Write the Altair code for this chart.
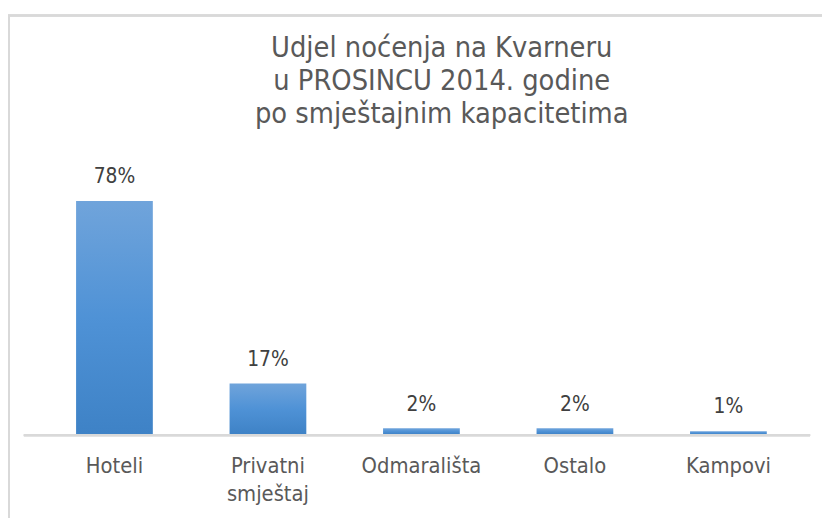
import altair as alt
import pandas as pd

categories = ["Hoteli", "Privatni smještaj", "Odmarališta", "Ostalo", "Kampovi"]
shares = [78, 17, 2, 2, 1]
title_lines = ["Udjel noćenja na Kvarneru", "u PROSINCU 2014. godine", "po smještajnim kapacitetima"]

df = pd.DataFrame({"kat": categories, "udio": shares})
df["label"] = df["udio"].astype(str) + "%"
df_title = pd.DataFrame({"t": ["\n".join(title_lines)]})

FONT = "DejaVu Sans Condensed, Liberation Sans Narrow, DejaVu Sans, sans-serif"

x_enc = alt.X("kat:N", sort=categories,
              scale=alt.Scale(paddingInner=0.5, paddingOuter=0.25),
              axis=alt.Axis(title=None, domain=False, ticks=False, labelAngle=0,
                            labelFontSize=22, labelColor="#595959", labelFont=FONT,
                            labelPadding=22, labelLineHeight=28,
                            labelExpr="split(datum.label, ' ')"))
y_enc = alt.Y("udio:Q", scale=alt.Scale(domain=[0, 90]), axis=None)

base = alt.Chart(df)

frame = base.mark_rect(fill=None, stroke="#D9D9D9", strokeWidth=2, clip=False).encode(
    x=alt.value(-29), x2=alt.value(830), y=alt.value(-151), y2=alt.value(400)
)

grad = alt.Gradient(gradient="linear",
                    stops=[alt.GradientStop(color="#70A4DB", offset=0),
                           alt.GradientStop(color="#4F92D6", offset=0.5),
                           alt.GradientStop(color="#3E82C6", offset=1)],
                    x1=1, x2=1, y1=0, y2=1)

bars = base.mark_bar(color=grad).encode(x=x_enc, y=y_enc)

baseline = base.mark_rule(color="#D9D9D9", strokeWidth=2).encode(
    x=alt.value(-14), x2=alt.value(780), y=alt.value(273)
)

labels = base.mark_text(fontSize=21, color="#404040", font=FONT, baseline="alphabetic", dy=-18).encode(
    x=alt.X("kat:N", sort=categories), y=y_enc, text="label:N"
)

title = alt.Chart(df_title).mark_text(
    lineBreak="\n", fontSize=29, lineHeight=33.5, font=FONT, color="#595959",
    align="center", baseline="top"
).encode(text="t:N", x=alt.value(408), y=alt.value(-132))

chart = alt.layer(frame, bars, baseline, labels, title).properties(
    width=775, height=272,
    autosize=alt.AutoSizeParams(type="none"),
    padding={"left": 30, "top": 156, "right": 17, "bottom": 82},
).configure_view(stroke=None)

chart.save("out.html", embed_options={"renderer": "svg", "actions": False})
